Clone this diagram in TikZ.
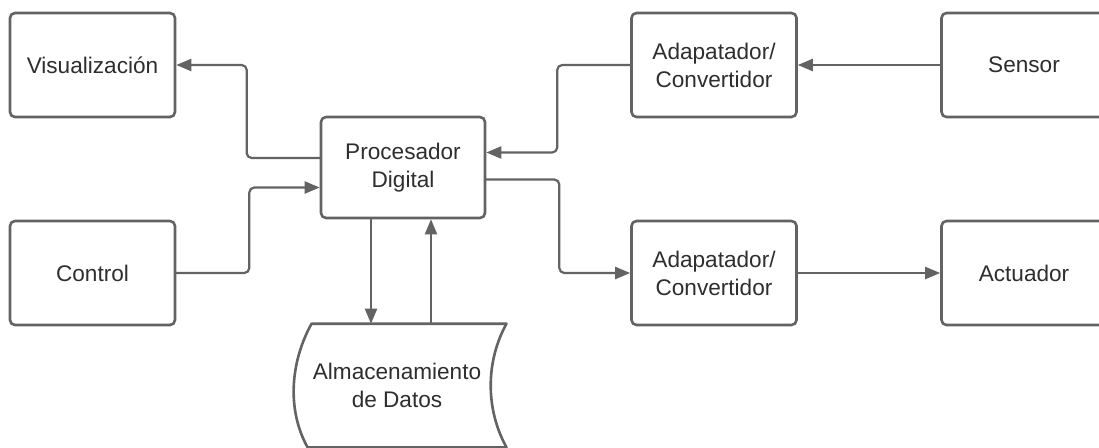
\documentclass[tikz,border=0pt]{standalone}
\usepackage{fontspec}
\setmainfont{Liberation Sans}
\usetikzlibrary{arrows.meta}
\definecolor{linegray}{HTML}{636363}
\definecolor{textgray}{HTML}{2E2E2E}

\begin{document}
\begin{tikzpicture}[x=1pt,y=-1pt,line cap=round,line join=round,
  block/.style={draw=linegray,line width=2.6pt,rounded corners=5pt,fill=white,
    minimum width=165pt,minimum height=104pt,inner sep=0pt,align=center,
    text=textgray,font=\fontsize{22.6}{28}\selectfont},
  link/.style={draw=linegray,line width=2.2pt,rounded corners=5pt,
    -{Triangle[length=15pt,width=12pt]}}]
  \useasboundingbox[fill=white] (0,0) rectangle (1099,447);

  \node[block] (vis) at (92.5,65) {Visualizaci\'on};
  \node[block] (ctrl) at (92.5,273) {Control};
  \node[block,minimum width=164pt,minimum height=101pt] (proc) at (403,167.5) {Procesador\\Digital};
  \node[block] (adin) at (714,65) {Adapatador/\\Convertidor};
  \node[block] (sens) at (1024,65) {Sensor};
  \node[block] (adout) at (714,273) {Adapatador/\\Convertidor};
  \node[block] (act) at (1024,273) {Actuador};

  \node[block,draw=none,fill=none,minimum width=164pt,minimum height=121pt] (store) at (397,385.5) {Almacenamiento\\de Datos};
  \draw[draw=linegray,line width=2.6pt] (store.north west) -- ([xshift=24pt]store.north east)
    .. controls +(-21,38) and +(-21,-38) .. ([xshift=24pt]store.south east) -- ([xshift=-4pt]store.south west)
    .. controls +(-21,-38) and +(-21,38) .. (store.north west) -- cycle;

  \draw[link] ([yshift=9.5pt]proc.west) -- ++(-73,0) |- (vis.east);
  \draw[link] (ctrl.east) -- ++(73,0) |- ([yshift=-20pt]proc.west);
  \draw[link] (adin.west) -- ++(-73,0) |- ([yshift=15pt]proc.east);
  \draw[link] (sens.west) -- (adin.east);
  \draw[link] ([yshift=-12pt]proc.east) -- ++(73,0) |- (adout.west);
  \draw[link] (adout.east) -- (act.west);
  \draw[link] ([xshift=-32pt]proc.south) -- ([xshift=-32pt]proc.south |- store.north);
  \draw[link] ([xshift=28pt]proc.south |- store.north) -- ([xshift=28pt]proc.south);
\end{tikzpicture}
\end{document}
